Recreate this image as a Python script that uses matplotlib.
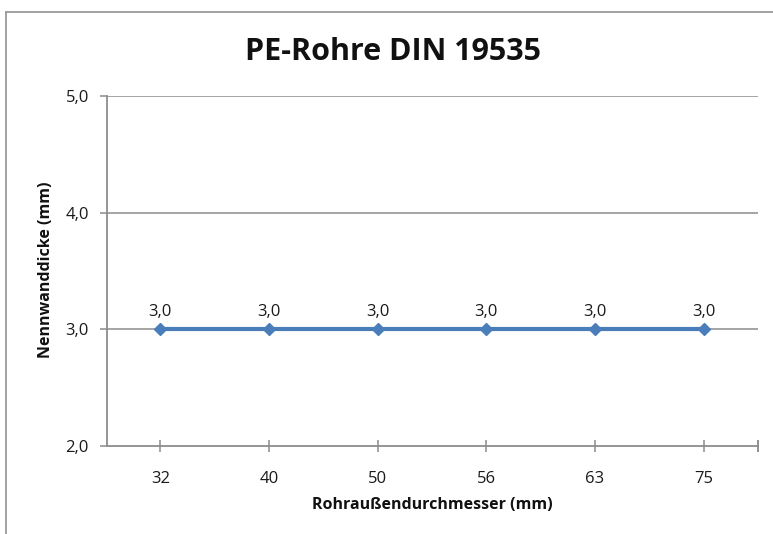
import matplotlib.pyplot as plt
from matplotlib.lines import Line2D

plt.rcParams['font.family'] = ['Open Sans', 'DejaVu Sans']

# data
durchmesser = ['32', '40', '50', '56', '63', '75']
wanddicke = [3.0, 3.0, 3.0, 3.0, 3.0, 3.0]
y_ticks = [2.0, 3.0, 4.0, 5.0]

W, H = 773, 534
fig = plt.figure(figsize=(W / 100, H / 100), dpi=100)
fig.patch.set_facecolor('white')

# chart frame (left + top border visible)
fig.add_artist(Line2D([6.5 / W, 6.5 / W], [0, 1 - 12 / H], color='#9a9a9a', lw=1.3))
fig.add_artist(Line2D([6.5 / W, 1], [1 - 12 / H, 1 - 12 / H], color='#9a9a9a', lw=1.3))

ax = fig.add_axes([107 / W, 1 - 446 / H, (758 - 107) / W, (446 - 96) / H])
x = list(range(len(durchmesser)))
ax.plot(x, wanddicke, color='#4A7EBB', lw=3, marker='D', ms=6.5,
        markerfacecolor='#4A7EBB', markeredgecolor='#4A7EBB', zorder=3, clip_on=False)
for xi, v in zip(x, wanddicke):
    ax.annotate(f'{v:.1f}'.replace('.', ','), (xi, v), xytext=(0, 7), textcoords='offset points',
                ha='center', va='bottom', fontsize=12, color='#1a1a1a')

ax.set_xlim(-0.49, 5.5)
ax.set_ylim(2.0, 5.0)
ax.set_yticks(y_ticks)
ax.set_yticklabels([f'{t:.1f}'.replace('.', ',') for t in y_ticks], fontsize=12, color='#1a1a1a')
ax.set_xticks(x)
ax.set_xticklabels(durchmesser, fontsize=12, color='#1a1a1a')
for t in y_ticks[1:]:
    ax.axhline(t, color='#8c8c8c', lw=1.1, zorder=1)

for s in ['top', 'right']:
    ax.spines[s].set_visible(False)
for s in ['left', 'bottom']:
    ax.spines[s].set_color('#8c8c8c')
    ax.spines[s].set_linewidth(1.3)
ax.tick_params(axis='y', length=5, width=1.1, color='#8c8c8c', pad=8)
ax.tick_params(axis='x', direction='inout', length=8, width=1.1, color='#8c8c8c', pad=14)
# end tick at right edge of axis
ax.plot([5.5, 5.5], [2.0, 2.0], marker='|', ms=8, mew=1.1, color='#8c8c8c', clip_on=False)

fig.text(393 / W, 1 - 52 / H, 'PE-Rohre DIN 19535', ha='center', va='center',
         fontsize=22, fontweight='bold', color='#111111')
fig.text(432 / W, 1 - 505 / H, 'Rohraußendurchmesser (mm)', ha='center', va='center',
         fontsize=11.5, fontweight='bold', color='#111111')
fig.text(46 / W, 1 - 270 / H, 'Nennwanddicke (mm)', ha='center', va='center', rotation=90,
         fontsize=11.5, fontweight='bold', color='#111111')

fig.savefig('out.png', dpi=100)
